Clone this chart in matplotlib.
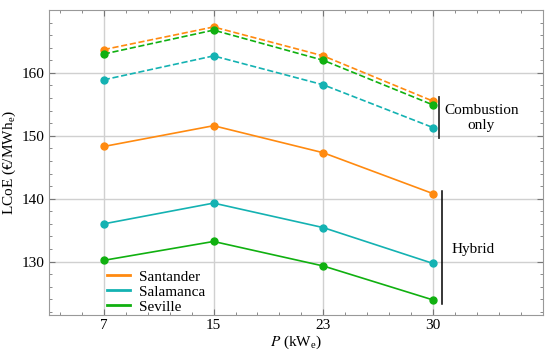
import matplotlib.pyplot as plt
import numpy as np
from matplotlib.ticker import MultipleLocator

plt.rcParams['font.family'] = ['Liberation Serif', 'DejaVu Serif']
plt.rcParams['mathtext.fontset'] = 'stix'

powers = ['7', '15', '23', '30']
cities = ['Santander', 'Salamanca', 'Seville']
colors = ['#ff8a10', '#14b2b2', '#10b010']

hybrid = {
    'Santander': [148.3, 151.6, 147.3, 140.8],
    'Salamanca': [136.0, 139.3, 135.4, 129.7],
    'Seville': [130.2, 133.2, 129.3, 123.9],
}
combustion = {
    'Santander': [163.7, 167.3, 162.7, 155.5],
    'Salamanca': [158.9, 162.7, 158.1, 151.3],
    'Seville': [163.0, 166.8, 162.0, 154.9],
}

fig = plt.figure(figsize=(5.5, 3.56), dpi=100)
ax = fig.add_axes([0.089, 0.115, 0.898, 0.857])
x = np.arange(len(powers))

for city, c in zip(cities, colors):
    ax.plot(x, combustion[city], '--', color=c, lw=1.2, marker='o', ms=5)
for city, c in zip(cities, colors):
    ax.plot(x, hybrid[city], '-', color=c, lw=1.2, marker='o', ms=5)

handles = [plt.Line2D([], [], color=c, lw=2) for c in colors]
ax.legend(handles, cities, loc='lower left', bbox_to_anchor=(0.09, -0.04),
          frameon=False, fontsize=11, handlelength=1.5, labelspacing=0.08,
          handletextpad=0.6)

# brackets
ax.plot([3.05, 3.05], [149.6, 156.2], color='#333333', lw=1.3)
ax.text(3.44, 152.9, 'Combustion\nonly', ha='center', va='center', fontsize=11,
        linespacing=1.2)
ax.plot([3.08, 3.08], [123.2, 141.2], color='black', lw=1.1)
ax.text(3.36, 132.0, 'Hybrid', ha='center', va='center', fontsize=11)

ax.set_xlim(-0.5, 4.0)
ax.set_ylim(121.5, 170)
ax.set_xticks(x)
ax.set_xticklabels(powers)
ax.xaxis.set_minor_locator(MultipleLocator(0.2))
ax.set_yticks([130, 140, 150, 160])
ax.yaxis.set_minor_locator(MultipleLocator(2))
ax.tick_params(which='both', direction='in', top=True, right=True, labelsize=11,
               color='#777777', pad=3)
ax.tick_params(which='major', length=4)
ax.tick_params(which='minor', length=2)
ax.grid(True, which='major', color='#d0d0d0', lw=1)
ax.set_axisbelow(True)
for s in ax.spines.values():
    s.set_color('#999999')

ax.set_xlabel(r'$P$ (kW$_\mathregular{e}$)', fontsize=11, labelpad=1)
ax.set_ylabel(r'LCoE (€/MWh$_\mathregular{e}$)', fontsize=11, labelpad=3)

fig.savefig('out.png', dpi=100)
